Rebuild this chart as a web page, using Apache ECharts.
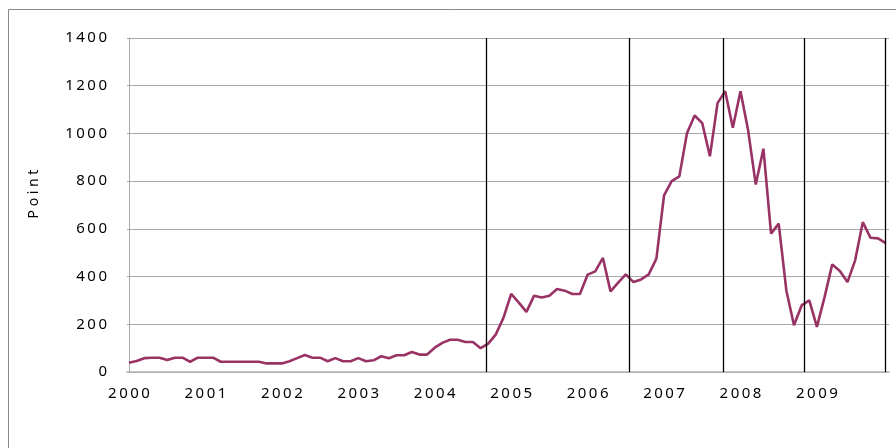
<!DOCTYPE html>
<html>
<head>
<meta charset="utf-8">
<script src="https://cdn.jsdelivr.net/npm/echarts@6/dist/echarts.min.js"></script>
<style>
html,body{margin:0;padding:0;background:#fff;}
#c{width:896px;height:448px;}
</style>
</head>
<body>
<div id="c"></div>
<script>
const yearLabels = ["2000","2001","2002","2003","2004","2005","2006","2007","2008","2009"];
const yearLabelIndex = [0,10,20,30,40,50,60,70,80,90];
const values = [
  39,46,58,60,60,50,60,60,43,60,
  60,60,43,43,43,43,43,43,36,36,
  36,45,58,71,60,60,45,58,45,45,
  58,45,49,66,58,70,70,84,73,73,
  102,122,135,135,126,126,100,119,158,228,
  327,291,252,320,312,320,348,341,327,327,
  408,422,478,338,375,409,377,388,409,475,
  740,800,820,1001,1075,1043,904,1127,1177,1024,
  1177,1013,786,936,580,622,342,196,279,300,
  189,314,451,423,377,468,628,563,560,540
];
const eventMarks = [46.8, 65.4, 77.7, 88.4, 98.9];
const yTicks = [0,200,400,600,800,1000,1200,1400];
const yTitle = "Point";

const spaced = s => String(s).split('').join('\u2009');

const chart = echarts.init(document.getElementById('c'), null, {renderer:'canvas'});
chart.setOption({
  animation:false,
  backgroundColor:'#fff',
  grid:{left:127, right:7, top:38, bottom:76, containLabel:false},
  xAxis:{
    type:'value', min:-0.26, max:99.43,
    axisLine:{show:true, lineStyle:{color:'#b4b4b4', width:1.5}},
    axisTick:{show:false},
    splitLine:{show:false},
    axisLabel:{
      customValues: yearLabelIndex,
      formatter: v => spaced(yearLabels[yearLabelIndex.indexOf(Math.round(v))] || ''),
      color:'#000', fontFamily:'Noto Sans', fontSize:15, margin:14
    }
  },
  yAxis:{
    type:'value', min:0, max:1400, interval:200,
    axisLine:{show:true, lineStyle:{color:'#a8a8a8', width:1}},
    axisTick:{show:false},
    splitLine:{show:true, lineStyle:{color:'#a8a8a8', width:1}},
    axisLabel:{formatter: v => spaced(v), color:'#000', fontFamily:'Noto Sans', fontSize:15, margin:20}
  },
  graphic:[
    {type:'rect', shape:{x:8.5, y:9.5, width:900, height:450}, style:{fill:'none', stroke:'#8a8a8a', lineWidth:1}, silent:true},
    {type:'text', x:34, y:194, rotation:Math.PI/2,
     style:{text: yTitle.split('').join(' '), fill:'#000', font:'14px "Noto Sans"', textAlign:'center', textVerticalAlign:'middle'}}
  ],
  series:[{
    type:'line',
    data: values.map((v,i)=>[i,v]),
    symbol:'none',
    lineStyle:{color:'#993366', width:2.6},
    itemStyle:{color:'#993366'},
    z:3,
    markLine:{
      silent:true, symbol:'none', label:{show:false},
      lineStyle:{color:'#000', width:1.3, type:'solid'},
      emphasis:{disabled:true},
      data: eventMarks.map(x=>({xAxis:x}))
    }
  }]
});
</script>
</body>
</html>
